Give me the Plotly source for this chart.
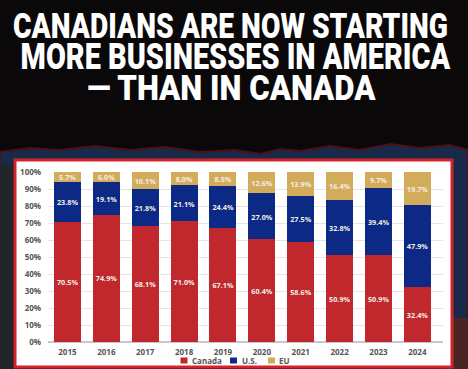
import plotly.graph_objects as go

years = ["2015", "2016", "2017", "2018", "2019", "2020", "2021", "2022", "2023", "2024"]
canada = [70.5, 74.9, 68.1, 71.0, 67.1, 60.4, 58.6, 50.9, 50.9, 32.4]
us = [23.8, 19.1, 21.8, 21.1, 24.4, 27.0, 27.5, 32.8, 39.4, 47.9]
eu = [5.7, 6.0, 10.1, 8.0, 8.5, 12.6, 13.9, 16.4, 9.7, 19.7]
series_names = ["Canada", "U.S.", "EU"]
title_lines = ["CANADIANS ARE NOW STARTING", "MORE BUSINESSES IN AMERICA", "— THAN IN CANADA"]

W, H = 468, 369
L, R, T, B = 48, 443, 172, 342
colors = ["#C0282E", "#0C2A85", "#D3AC5B"]


def px(x):
    return (x - L) / (R - L)


def py(y):
    return (B - y) / (B - T)


fig = go.Figure()
for name, vals, col in zip(series_names, [canada, us, eu], colors):
    fig.add_trace(go.Bar(
        x=years, y=vals, name=name, marker=dict(color=col, line=dict(width=0)),
        text=[f"{v:.1f}%" for v in vals], textposition="inside",
        insidetextanchor="middle", textangle=0, showlegend=False,
        textfont=dict(family="Open Sans", size=8, color="#f3eee6", weight="bold"),
    ))

shapes = []
# background mountain silhouette
mx = [0, 30, 60, 95, 130, 165, 200, 235, 260, 280, 300, 330, 360, 390, 420, 450, 468]
my = [152, 148, 150, 146, 150, 147, 152, 150, 154, 149, 151, 146, 150, 144, 148, 145, 150]
path = "M " + " L ".join(f"{px(a)},{py(b)}" for a, b in zip(mx, my))
path += f" L {px(468)},{py(369)} L {px(0)},{py(369)} Z"
shapes.append(dict(type="path", xref="paper", yref="paper", path=path,
                   fillcolor="#18294a", line=dict(color="#4a1216", width=2), layer="below"))
# darker grey left side, warm glow bottom right
shapes.append(dict(type="rect", xref="paper", yref="paper",
                   x0=px(0), x1=px(20), y0=py(369), y1=py(165),
                   fillcolor="#23252b", line=dict(width=0), layer="below"))
shapes.append(dict(type="rect", xref="paper", yref="paper",
                   x0=px(445), x1=px(468), y0=py(369), y1=py(318),
                   fillcolor="#4a2622", line=dict(width=0), layer="below"))
# white card with red border
shapes.append(dict(type="rect", xref="paper", yref="paper",
                   x0=px(15), x1=px(452), y0=py(367), y1=py(160),
                   fillcolor="white", line=dict(color="#D2232A", width=3), layer="below"))

annotations = []
# title lines (centers in pixels)
title_cx = [230, 235, 231]
title_cy = [26, 57, 88]
for line, cx, cy in zip(title_lines, title_cx, title_cy):
    annotations.append(dict(
        text=line, xref="paper", yref="paper", x=px(cx), y=py(cy),
        xanchor="center", yanchor="middle", showarrow=False,
        font=dict(family="Roboto", size=26, color="white", weight=900),
    ))

# manual legend
leg_sq_x = [180.5, 230, 268]
leg_txt_x = [189.5, 239.5, 277]
leg_y = 360.5
for name, col, sx, tx in zip(series_names, colors, leg_sq_x, leg_txt_x):
    shapes.append(dict(type="rect", xref="paper", yref="paper",
                       x0=px(sx), x1=px(sx + 7), y0=py(leg_y + 3), y1=py(leg_y - 3),
                       fillcolor=col, line=dict(width=0)))
    annotations.append(dict(
        text=name, xref="paper", yref="paper", x=px(tx), y=py(leg_y),
        xanchor="left", yanchor="middle", showarrow=False,
        font=dict(family="Open Sans", size=8, color="#555", weight="bold"),
    ))

fig.update_layout(
    width=W, height=H,
    margin=dict(l=L, r=W - R, t=T, b=H - B, pad=0, autoexpand=False),
    paper_bgcolor="#0b0809", plot_bgcolor="rgba(0,0,0,0)",
    barmode="stack", bargap=0.306,
    showlegend=False,
    shapes=shapes, annotations=annotations,
    uniformtext=dict(minsize=7, mode="show"),
)
fig.update_xaxes(range=[-0.5, 9.66], showgrid=False, showline=False, ticks="",
                 tickfont=dict(family="Open Sans", size=8, color="#555", weight="bold"),
                 ticklabelstandoff=4)
fig.update_yaxes(range=[0, 100], dtick=10, ticksuffix="%", showgrid=True,
                 gridcolor="#e4e4e4", gridwidth=1, zeroline=True, zerolinecolor="#c8c8c8",
                 tickfont=dict(family="Open Sans", size=8, color="#555", weight="bold"),
                 ticklabelstandoff=6)

post = """
document.documentElement.style.margin = '0';
document.body.style.margin = '0';
document.body.style.background = '#0b0809';
var gd = document.getElementById('{plot_id}');
var targets = {"CANADIANS ARE NOW STARTING": 435, "MORE BUSINESSES IN AMERICA": 430, "— THAN IN CANADA": 289};
var sy = 36 / 26;
function squeeze() {
  gd.querySelectorAll('text.annotation-text').forEach(function (t) {
    var w = targets[t.textContent];
    if (!w) return;
    t.removeAttribute('transform');
    var bb = t.getBBox();
    if (!bb.width) return;
    var sx = w / bb.width;
    var cx = bb.x + bb.width / 2;
    var cy = bb.y + bb.height / 2;
    t.setAttribute('transform', 'translate(' + cx + ',' + cy + ') scale(' + sx + ',' + sy + ') translate(' + (-cx) + ',' + (-cy) + ')');
  });
}
squeeze();
if (gd.on) { gd.on('plotly_afterplot', squeeze); }
"""

fig.write_html("out.html", post_script=post, config={"displayModeBar": False})
